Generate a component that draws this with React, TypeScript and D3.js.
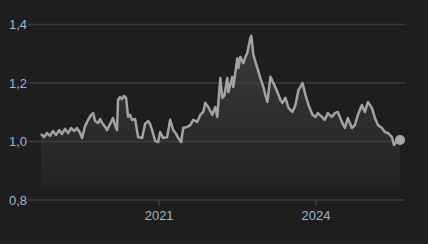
import React from "react";
import * as d3 from "d3";

const dates: string[] = [
  "2018-09-29","2018-10-20","2018-11-10","2018-12-01","2018-12-22","2019-01-12","2019-02-02","2019-02-23","2019-03-16","2019-04-06",
  "2019-04-27","2019-05-18","2019-06-08","2019-06-29","2019-07-13","2019-08-03","2019-08-24","2019-09-14","2019-09-28","2019-10-12",
  "2019-11-02","2019-11-16","2019-11-30","2019-12-21","2020-01-03","2020-01-24","2020-02-14","2020-02-28","2020-03-13","2020-03-20",
  "2020-04-03","2020-04-17","2020-05-01","2020-05-15","2020-05-29","2020-06-12","2020-06-26","2020-07-17","2020-08-07","2020-09-04",
  "2020-09-25","2020-10-16","2020-10-30","2020-11-13","2020-12-04","2020-12-25","2021-01-08","2021-01-29","2021-02-26","2021-03-19",
  "2021-04-09","2021-04-30","2021-05-14","2021-06-04","2021-06-18","2021-07-16","2021-08-06","2021-08-27","2021-09-24","2021-10-15",
  "2021-11-05","2021-11-19","2021-12-10","2022-01-07","2022-01-28","2022-02-11","2022-03-04","2022-03-18","2022-04-01","2022-04-22",
  "2022-04-29","2022-05-27","2022-06-03","2022-07-01","2022-07-08","2022-07-22","2022-08-12","2022-08-26","2022-09-09","2022-09-30",
  "2022-10-07","2022-10-21","2022-11-18","2022-12-09","2022-12-30","2023-01-13","2023-01-27","2023-02-17","2023-03-10","2023-04-07",
  "2023-04-28","2023-05-12","2023-06-02","2023-06-23","2023-07-21","2023-08-11","2023-09-01","2023-09-29","2023-10-20","2023-11-10",
  "2023-12-08","2023-12-29","2024-01-14","2024-02-12","2024-03-03","2024-03-24","2024-04-21","2024-05-12","2024-06-02","2024-06-30",
  "2024-07-21","2024-08-11","2024-09-08","2024-09-29","2024-10-20","2024-11-17","2024-12-08","2024-12-29","2025-01-26","2025-02-16",
  "2025-03-09","2025-04-06","2025-04-27","2025-05-18","2025-06-15","2025-06-29","2025-07-20","2025-08-10"
];

const values: number[] = [
  1.026,1.015,1.029,1.019,1.036,1.022,1.039,1.026,1.043,1.029,
  1.046,1.036,1.046,1.029,1.012,1.053,1.074,1.091,1.097,1.070,
  1.063,1.077,1.063,1.050,1.039,1.060,1.080,1.056,1.039,1.142,
  1.152,1.145,1.156,1.149,1.084,1.091,1.074,1.077,1.015,1.012,
  1.060,1.070,1.060,1.039,1.002,0.998,1.032,1.012,1.015,1.074,
  1.039,1.026,1.012,0.998,1.046,1.050,1.056,1.074,1.067,1.091,
  1.101,1.132,1.118,1.091,1.118,1.084,1.217,1.149,1.156,1.217,
  1.169,1.221,1.186,1.285,1.251,1.289,1.268,1.289,1.303,1.354,
  1.361,1.296,1.251,1.217,1.186,1.159,1.135,1.221,1.200,1.169,
  1.142,1.132,1.149,1.115,1.101,1.125,1.176,1.200,1.159,1.125,
  1.091,1.084,1.097,1.084,1.074,1.097,1.084,1.097,1.101,1.067,
  1.046,1.080,1.046,1.056,1.091,1.125,1.101,1.135,1.115,1.080,
  1.056,1.046,1.032,1.029,1.015,0.988,1.005,1.005
];

const yTicks: number[] = [0.8, 1.0, 1.2, 1.4];
const yTickLabels: string[] = ["0,8", "1,0", "1,2", "1,4"];
const xTicks: string[] = ["2021-01-01", "2024-01-01"];
const xTickLabels: string[] = ["2021", "2024"];

const W = 428;
const H = 244;

export default function App() {
  const parse = d3.timeParse("%Y-%m-%d");
  const data = dates.map((d, i) => ({ date: parse(d) as Date, value: values[i] }));
  const x = d3
    .scaleTime()
    .domain([data[0].date, data[data.length - 1].date])
    .range([41, 400]);
  const y = d3.scaleLinear().domain([0.8, 1.4]).range([200, 24.5]);
  const areaBottom = 190;

  const line = d3
    .line<{ date: Date; value: number }>()
    .x((d) => x(d.date))
    .y((d) => y(d.value))
    .curve(d3.curveLinear);
  const area = d3
    .area<{ date: Date; value: number }>()
    .x((d) => x(d.date))
    .y0(areaBottom)
    .y1((d) => y(d.value))
    .curve(d3.curveLinear);

  const last = data[data.length - 1];
  const font = "'Liberation Sans', Arial, sans-serif";
  const labelColor = "#a3b6c9";
  const gridColor = "#3a3d42";

  return (
    <svg
      width={W}
      height={H}
      style={{ position: "fixed", left: 0, top: 0, display: "block" }}
    >
      <defs>
        <linearGradient id="areaGrad" x1="0" y1="0" x2="0" y2="1" gradientUnits="objectBoundingBox">
          <stop offset="0%" stopColor="#ffffff" stopOpacity={0.13} />
          <stop offset="55%" stopColor="#ffffff" stopOpacity={0.07} />
          <stop offset="100%" stopColor="#ffffff" stopOpacity={0.02} />
        </linearGradient>
      </defs>
      <rect x={0} y={0} width={W} height={H} fill="#1e1e1e" />
      <path d={area(data) || ""} fill="url(#areaGrad)" />
      {yTicks.map((t, i) => (
        <g key={t}>
          <line x1={28} x2={405} y1={y(t)} y2={y(t)} stroke={gridColor} strokeWidth={1.5} />
          <text
            x={27}
            y={y(t)}
            textAnchor="end"
            dominantBaseline="central"
            fontFamily={font}
            fontSize={13}
            fill={labelColor}
          >
            {yTickLabels[i]}
          </text>
        </g>
      ))}
      {xTicks.map((t, i) => {
        const xv = x(parse(t) as Date);
        return (
          <g key={t}>
            <line x1={xv} x2={xv} y1={200} y2={206} stroke={gridColor} strokeWidth={1.5} />
            <text
              x={xv}
              y={215}
              textAnchor="middle"
              dominantBaseline="central"
              fontFamily={font}
              fontSize={13}
              fill={labelColor}
            >
              {xTickLabels[i]}
            </text>
          </g>
        );
      })}
      <path
        d={line(data) || ""}
        fill="none"
        stroke="#a3a3a3"
        strokeWidth={2.5}
        strokeLinejoin="round"
      />
      <circle cx={x(last.date)} cy={y(last.value)} r={5} fill="#a8a8a8" />
    </svg>
  );
}
